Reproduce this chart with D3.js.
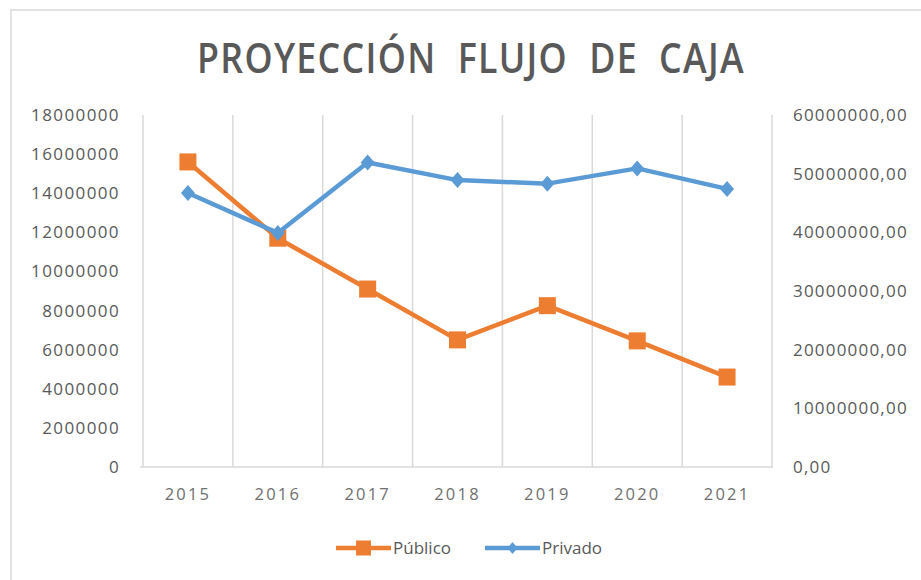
<!DOCTYPE html>
<html>
<head>
<meta charset="utf-8">
<script src="https://cdn.jsdelivr.net/npm/d3@7"></script>
<style>
  body { margin: 0; background: #fff; }
  svg { display: block; font-family: "Open Sans", sans-serif; }
</style>
</head>
<body>
<div id="chart"></div>
<script>
// categories and series
var years = ["2015", "2016", "2017", "2018", "2019", "2020", "2021"];
var publico = [15600000, 11700000, 9100000, 6500000, 8250000, 6450000, 4600000];
var privado = [46700000, 39900000, 51900000, 48900000, 48300000, 50900000, 47400000];

// tick labels
var leftTicks = [0, 2000000, 4000000, 6000000, 8000000, 10000000, 12000000, 14000000, 16000000, 18000000];
var rightTicks = [0, 10000000, 20000000, 30000000, 40000000, 50000000, 60000000];

var title = "PROYECCIÓN  FLUJO  DE  CAJA";
var seriesNames = ["Público", "Privado"];
var colors = ["#ED7D31", "#5B9BD5"];

var W = 921, H = 580;
var plot = {left: 143, right: 772, top: 115, bottom: 467};

var svg = d3.select("#chart").append("svg")
    .attr("width", W)
    .attr("height", H);

// chart frame (only top/left edges visible in the picture)
svg.append("rect")
    .attr("x", 11).attr("y", 10)
    .attr("width", W + 20).attr("height", H + 20)
    .attr("fill", "#fff")
    .attr("stroke", "#d9d9d9")
    .attr("stroke-width", 1.5);

// title - condensed look: draw wide then squeeze to the reference width
var tg = svg.append("g");
var tt = tg.append("text")
    .attr("x", 0)
    .attr("y", 0)
    .attr("text-anchor", "middle")
    .attr("fill", "#595959")
    .style("font-size", "41px")
    .style("font-weight", 600)
    .style("letter-spacing", "1.5px")
    .style("white-space", "pre")
    .attr("xml:space", "preserve")
    .text(title);
var tw = tt.node().getComputedTextLength();
tg.attr("transform", "translate(471,73) scale(" + (548 / tw) + ",1)");

// scales
var x = d3.scaleBand()
    .domain(years)
    .range([plot.left, plot.right]);

var yL = d3.scaleLinear()
    .domain([0, 18000000])
    .range([plot.bottom, plot.top]);

var yR = d3.scaleLinear()
    .domain([0, 60000000])
    .range([plot.bottom, plot.top]);

// vertical gridlines between categories
svg.append("g")
    .selectAll("line")
    .data(years.slice(1))
    .enter().append("line")
    .attr("x1", function(d) { return x(d); })
    .attr("x2", function(d) { return x(d); })
    .attr("y1", plot.top)
    .attr("y2", plot.bottom)
    .attr("stroke", "#d9d9d9")
    .attr("stroke-width", 1.5);

// axis lines
svg.append("line")
    .attr("x1", plot.left).attr("x2", plot.left)
    .attr("y1", plot.top).attr("y2", plot.bottom)
    .attr("stroke", "#d9d9d9").attr("stroke-width", 1.5);
svg.append("line")
    .attr("x1", plot.right).attr("x2", plot.right)
    .attr("y1", plot.top).attr("y2", plot.bottom)
    .attr("stroke", "#d9d9d9").attr("stroke-width", 1.5);
svg.append("line")
    .attr("x1", plot.left - 3).attr("x2", plot.right + 1)
    .attr("y1", plot.bottom).attr("y2", plot.bottom)
    .attr("stroke", "#d9d9d9").attr("stroke-width", 1.5);

// left axis
var gl = svg.append("g")
    .attr("transform", "translate(" + plot.left + ",0)")
    .call(d3.axisLeft(yL).tickValues(leftTicks).tickSize(0).tickPadding(23)
        .tickFormat(d3.format("d")));
gl.select(".domain").remove();
gl.selectAll("text")
    .attr("fill", "#595959")
    .style("font-size", "17px")
    .style("font-family", "'Open Sans', sans-serif")
    .style("letter-spacing", "1.4px");

// right axis
var gr = svg.append("g")
    .attr("transform", "translate(" + plot.right + ",0)")
    .call(d3.axisRight(yR).tickValues(rightTicks).tickSize(0).tickPadding(21)
        .tickFormat(function(d) { return d3.format("d")(d) + ",00"; }));
gr.select(".domain").remove();
gr.selectAll("text")
    .attr("fill", "#595959")
    .style("font-size", "17px")
    .style("font-family", "'Open Sans', sans-serif")
    .style("letter-spacing", "1.2px");

// bottom axis
var gb = svg.append("g")
    .attr("transform", "translate(0," + plot.bottom + ")")
    .call(d3.axisBottom(x).tickSize(0).tickPadding(21));
gb.select(".domain").remove();
gb.selectAll("text")
    .attr("fill", "#6f6f6f")
    .style("font-size", "16.5px")
    .style("font-family", "'Open Sans', sans-serif")
    .style("letter-spacing", "2.2px");

var cx = function(d, i) { return x(years[i]) + x.bandwidth() / 2; };

// Público line (left axis)
svg.append("path")
    .datum(publico)
    .attr("fill", "none")
    .attr("stroke", colors[0])
    .attr("stroke-width", 4.5)
    .attr("stroke-linejoin", "round")
    .attr("d", d3.line().x(cx).y(function(d) { return yL(d); }));

svg.append("g")
    .selectAll("rect")
    .data(publico)
    .enter().append("rect")
    .attr("x", function(d, i) { return cx(d, i) - 8.5; })
    .attr("y", function(d) { return yL(d) - 8.5; })
    .attr("width", 17)
    .attr("height", 17)
    .attr("fill", colors[0]);

// Privado line (right axis)
svg.append("path")
    .datum(privado)
    .attr("fill", "none")
    .attr("stroke", colors[1])
    .attr("stroke-width", 4.5)
    .attr("stroke-linejoin", "round")
    .attr("d", d3.line().x(cx).y(function(d) { return yR(d); }));

svg.append("g")
    .selectAll("path")
    .data(privado)
    .enter().append("path")
    .attr("transform", function(d, i) { return "translate(" + cx(d, i) + "," + yR(d) + ")"; })
    .attr("d", "M0,-8L7,0L0,8L-7,0Z")
    .attr("fill", colors[1]);

// legend
var legend = svg.append("g").attr("transform", "translate(0,548)");
var legX = [336, 485];
seriesNames.forEach(function(name, i) {
    var g = legend.append("g").attr("transform", "translate(" + legX[i] + ",0)");
    g.append("line")
        .attr("x1", 0).attr("x2", 55)
        .attr("stroke", colors[i])
        .attr("stroke-width", 4.5);
    if (i === 0) {
        g.append("rect")
            .attr("x", 20).attr("y", -7.5)
            .attr("width", 15).attr("height", 15)
            .attr("fill", colors[i]);
    } else {
        g.append("path")
            .attr("transform", "translate(27.5,0)")
            .attr("d", "M0,-6L5,0L0,6L-5,0Z")
            .attr("fill", colors[i]);
    }
    g.append("text")
        .attr("x", 57)
        .attr("y", 0)
        .attr("dy", "0.36em")
        .attr("fill", "#595959")
        .style("font-size", "17px")
        .text(name);
});
</script>
</body>
</html>
